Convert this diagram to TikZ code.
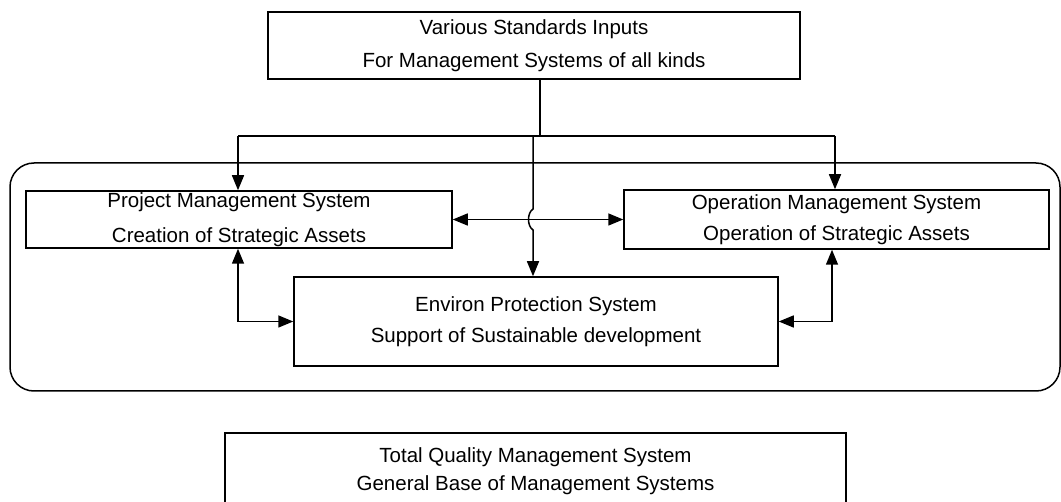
\documentclass[tikz,border=0pt]{standalone}
\usepackage{fontspec}
\setmainfont{Liberation Sans}
\usetikzlibrary{arrows.meta}
\tikzset{
  box/.style={draw, line width=0.75pt, inner sep=0pt, align=center, anchor=center},
  conn/.style={line width=0.75pt},
  arr/.style={conn, -{Triangle[length=7.5pt,width=6pt]}},
  darr/.style={conn, {Triangle[length=7.5pt,width=6pt]}-{Triangle[length=7.5pt,width=6pt]}},
}
\newcommand{\fs}[1]{\fontsize{10.25}{#1}\selectfont}
\begin{document}
\begin{tikzpicture}[x=0.5pt,y=-0.5pt]
\useasboundingbox (0,0) rectangle (1061,502);
% frame
\node[draw, line width=0.75pt, rounded corners=12pt, minimum width=525pt, minimum height=114pt, inner sep=0pt] (frame) at (535,277) {};
% boxes
\node[box, minimum width=266pt, minimum height=33.5pt, font=\fs{16.5pt}] (top) at (534,45.5)
  {Various Standards Inputs\\For Management Systems of all kinds};
\node[box, minimum width=213pt, minimum height=28.5pt, font=\fs{17.5pt}] (proj) at (239,219.5)
  {Project Management System\\Creation of Strategic Assets};
\node[box, minimum width=212.5pt, minimum height=29.5pt, font=\fs{15.5pt}] (op) at (836.5,219.5)
  {Operation Management System\\Operation of Strategic Assets};
\node[box, minimum width=242pt, minimum height=44.5pt, font=\fs{15.5pt}] (env) at (536,321.5)
  {Environ Protection System\\Support of Sustainable development};
\node[box, minimum width=310.5pt, minimum height=38pt, font=\fs{14pt}] (tqm) at (535.5,471)
  {Total Quality Management System\\General Base of Management Systems};
% connector coordinates
\coordinate (j) at (540,136);
\coordinate (hl) at (238,136);
\coordinate (hr) at (835,136);
\coordinate (jv) at (533,136);
\coordinate (oc) at (832,0);
% top distribution
\draw[conn] (top.south -| j) -- (j);
\draw[conn] (hl) -- (hr);
\draw[arr] (hl) -- (proj.north -| hl);
\draw[arr] (hr) -- (op.north -| hr);
\draw[arr] (jv) -- (533,209) .. controls (527,213) and (527,226) .. (533,230) -- (env.north -| jv);
% lateral links
\draw[darr] (proj.east) -- (op.west);
\draw[darr] (proj.south -| hl) |- (env.west);
\draw[darr] (op.south -| oc) |- (env.east);
\end{tikzpicture}
\end{document}
